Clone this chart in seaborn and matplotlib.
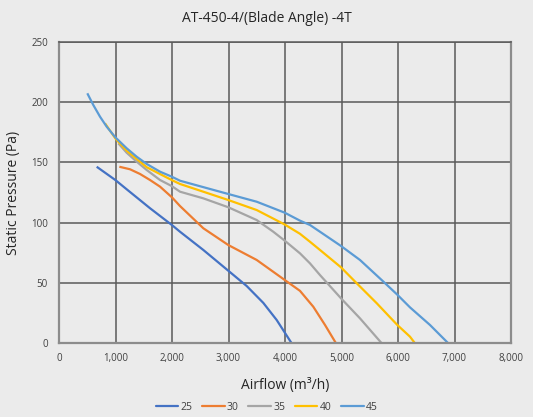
import numpy as np
import pandas as pd
import matplotlib
matplotlib.use("Agg")
import matplotlib.pyplot as plt
from matplotlib.lines import Line2D
import seaborn as sns

# ---- data ----
angles = ["25", "30", "35", "40", "45"]
x25 = [667, 997, 1198, 1611, 2000, 2142, 2554, 2996, 3322, 3616, 3853, 4118]
y25 = [146.4, 135.4, 127.7, 112, 98, 92.5, 77.4, 60.2, 47.5, 33.5, 19.3, 0]
x30 = [1068, 1257, 1434, 1611, 1788, 2000, 2142, 2554, 2996, 3499, 3995, 4265, 4501, 4708, 4903]
y30 = [146.4, 144.3, 140.4, 135.4, 129.9, 121, 113.8, 95.4, 81.5, 69.1, 52.5, 43.5, 30.3, 15.2, 0]
x35 = [1050, 1198, 1375, 1552, 1788, 1994, 2142, 2554, 2996, 3499, 3793, 3995, 4265, 4442, 4619, 4991, 5327, 5712]
y35 = [165.8, 158, 150.6, 143.7, 135.4, 130.4, 125.7, 120.2, 112.8, 102.2, 92.5, 85.1, 74.6, 66.3, 56.6, 37.3, 20.7, 0]
x40 = [814, 997, 1198, 1552, 1994, 2142, 2554, 2996, 3499, 3995, 4265, 4442, 4619, 4991, 5269, 5624, 5858, 5988, 6212, 6301]
y40 = [182.4, 169.9, 159.7, 146, 135.4, 132.1, 125.7, 118.8, 110.5, 98.5, 90.8, 84.2, 77.4, 63, 49.8, 33.2, 21.6, 15.2, 5.5, 0]
x45 = [501, 607, 726, 844, 997, 1198, 1375, 1552, 1788, 1994, 2142, 2996, 3499, 3995, 4265, 4442, 4619, 4991, 5327, 5740, 5988, 6212, 6566, 6890]
y45 = [207.3, 197.6, 187.9, 179.6, 170.8, 161.7, 154.7, 148.7, 142.3, 138.2, 134.8, 123.8, 117.4, 108.3, 101.7, 98.1, 92.5, 80.7, 69.1, 51.2, 40.3, 29.8, 15.2, 0]
xticks = [0, 1000, 2000, 3000, 4000, 5000, 6000, 7000, 8000]
yticks = [0, 50, 100, 150, 200, 250]
colors = ["#4472C4", "#ED7D31", "#A5A5A5", "#FFC000", "#5B9BD5"]

xs = [x25, x30, x35, x40, x45]
ys = [y25, y30, y35, y40, y45]
frames = []
for a, xx, yy in zip(angles, xs, ys):
    frames.append(pd.DataFrame({"Airflow": xx, "Pressure": yy, "Angle": a}))
df = pd.concat(frames, ignore_index=True)

sns.set_theme(style="white")
plt.rcParams["font.family"] = ["Open Sans", "DejaVu Sans"]
bg = "#EBEBEB"
fig = plt.figure(figsize=(5.33, 4.17), dpi=100, facecolor=bg)
ax = fig.add_axes([59 / 533, 1 - 343.3 / 417, (511 - 59) / 533, (343.3 - 41.8) / 417])
ax.set_facecolor(bg)

sns.lineplot(data=df, x="Airflow", y="Pressure", hue="Angle", hue_order=angles,
             palette=colors, sort=False, estimator=None, linewidth=1.6, ax=ax,
             legend=False)
for ln in ax.get_lines():
    ln.set_solid_joinstyle("round")
    ln.set_solid_capstyle("butt")

ax.set_xlim(0, 8000)
ax.set_ylim(0, 250)
ax.set_xticks(xticks)
ax.set_yticks(yticks)
ax.set_xticklabels([f"{v:,}" for v in xticks])
ax.set_yticklabels([str(v) for v in yticks])
ax.tick_params(axis="both", length=0, labelsize=7, colors="#404040")
ax.tick_params(axis="x", pad=7)
ax.tick_params(axis="y", pad=8)
ax.grid(True, color="#5a5a5a", linewidth=1.1)
ax.set_axisbelow(True)
for s in ["left", "bottom", "right"]:
    ax.spines[s].set_color("#8c8c8c")
    ax.spines[s].set_linewidth(1.6)
ax.spines["top"].set_color("#5a5a5a")
ax.spines["top"].set_linewidth(1.1)

ax.set_xlabel("Airflow (m³/h)", fontsize=10, color="#262626", labelpad=10)
ax.set_ylabel("Static Pressure (Pa)", fontsize=10, color="#262626", labelpad=7)
fig.text(0.5, 1 - 18 / 417, "AT-450-4/(Blade Angle) -4T", ha="center", va="center",
         fontsize=10, color="#262626")

handles = [Line2D([0], [0], color=c, lw=1.6) for c in colors]
fig.legend(handles, angles, loc="center", bbox_to_anchor=(0.5, 1 - 407 / 417), ncol=5,
           frameon=False, fontsize=7.5, handlelength=2.2, handletextpad=0.2,
           columnspacing=0.9, labelcolor="#404040")

fig.savefig("out.png", dpi=100, facecolor=bg)
